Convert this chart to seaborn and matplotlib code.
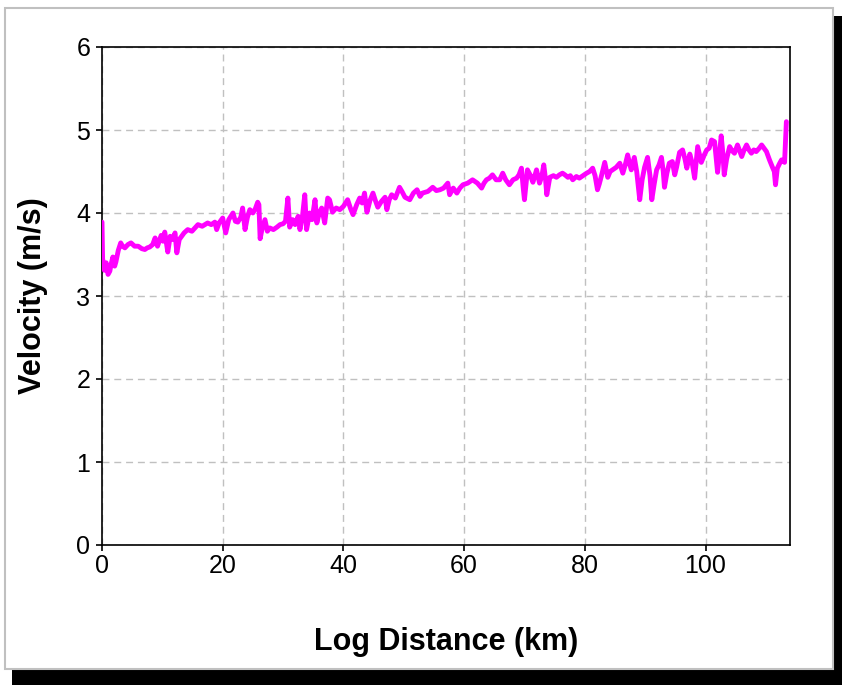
import matplotlib
matplotlib.use("Agg")
import matplotlib.pyplot as plt
from matplotlib.patches import Rectangle
import numpy as np
import pandas as pd
import seaborn as sns

distance_km = [
    0.0, 0.1, 0.4, 0.7, 1.0, 1.3, 1.5, 1.8, 2.1, 2.3, 2.7, 3.1, 3.4, 3.8, 4.3, 4.8, 5.4, 6.0, 6.6, 7.1,
    7.5, 7.9, 8.4, 8.8, 9.2, 9.8, 10.1, 10.4, 10.9, 11.3, 11.7, 12.1, 12.4, 12.8, 13.1, 13.6, 14.2, 14.9, 15.9, 16.6,
    17.5, 18.1, 18.7, 19.0, 19.4, 20.0, 20.5, 21.0, 21.7, 22.1, 22.5, 23.0, 23.3, 23.7, 24.1, 24.5, 25.0, 25.4, 25.8, 26.0,
    26.2, 26.5, 27.0, 27.4, 27.8, 28.4, 29.0, 29.5, 30.0, 30.4, 30.8, 31.1, 31.6, 32.0, 32.5, 32.8, 33.2, 33.6, 33.9, 34.4,
    34.8, 35.3, 35.6, 36.0, 36.4, 36.9, 37.4, 37.7, 38.2, 38.8, 39.4, 40.0, 40.7, 41.2, 41.6, 42.2, 42.7, 43.1, 43.5, 43.9,
    44.4, 44.9, 45.3, 45.7, 46.3, 46.9, 47.2, 47.6, 48.0, 48.6, 49.3, 49.7, 50.2, 51.0, 51.6, 52.2, 52.7, 53.1, 54.0, 54.8,
    55.4, 56.0, 56.6, 57.3, 57.6, 58.2, 58.8, 59.3, 59.8, 60.6, 61.4, 62.2, 62.9, 63.3, 63.7, 64.2, 64.7, 65.3, 65.9, 66.4,
    66.9, 67.5, 68.1, 68.7, 69.1, 69.5, 69.8, 70.0, 70.2, 70.5, 71.0, 71.4, 72.0, 72.5, 72.9, 73.2, 73.5, 73.7, 74.0, 74.2,
    74.8, 75.3, 75.8, 76.3, 76.7, 77.2, 77.6, 78.0, 78.6, 79.1, 79.7, 80.3, 80.8, 81.3, 81.7, 82.1, 82.4, 82.8, 83.3, 83.8,
    84.2, 84.6, 85.2, 85.8, 86.3, 86.7, 87.1, 87.4, 87.7, 88.2, 88.6, 89.1, 89.5, 89.9, 90.4, 90.8, 91.1, 91.5, 91.9, 92.3,
    92.7, 93.0, 93.2, 93.6, 94.0, 94.5, 94.9, 95.2, 95.7, 96.2, 96.6, 96.9, 97.4, 97.8, 98.2, 98.7, 99.3, 99.8, 100.2, 100.6,
    101.0, 101.5, 102.0, 102.3, 102.6, 102.9, 103.1, 103.5, 104.0, 104.4, 104.8, 105.3, 106.0, 106.4, 106.8, 107.2, 107.6, 108.0, 108.4, 108.9,
    109.3, 109.7, 110.1, 110.6, 111.1, 111.4, 111.6, 111.9, 112.3, 112.6, 113.1, 113.4,
]
velocity_ms = [
    3.89, 3.45, 3.31, 3.40, 3.26, 3.30, 3.38, 3.47, 3.36, 3.41, 3.55, 3.64, 3.60, 3.58, 3.62, 3.64, 3.60, 3.60, 3.57, 3.56,
    3.58, 3.59, 3.62, 3.70, 3.60, 3.73, 3.66, 3.77, 3.53, 3.72, 3.68, 3.76, 3.52, 3.68, 3.71, 3.76, 3.80, 3.78, 3.86, 3.84,
    3.88, 3.86, 3.89, 3.80, 3.88, 3.94, 3.76, 3.92, 4.00, 3.90, 3.89, 3.95, 4.06, 3.80, 3.95, 4.04, 4.00, 4.05, 4.13, 4.10,
    3.69, 3.80, 3.92, 3.78, 3.82, 3.80, 3.83, 3.86, 3.87, 3.90, 4.18, 3.83, 3.92, 3.86, 3.96, 3.80, 3.95, 4.22, 3.80, 4.00,
    3.92, 4.16, 3.88, 4.00, 4.06, 3.88, 4.18, 4.16, 4.01, 4.06, 4.04, 4.08, 4.16, 4.05, 3.98, 4.10, 4.18, 4.12, 4.24, 4.01,
    4.15, 4.24, 4.15, 4.07, 4.14, 4.19, 4.04, 4.16, 4.22, 4.18, 4.31, 4.26, 4.19, 4.16, 4.24, 4.28, 4.20, 4.24, 4.26, 4.31,
    4.27, 4.28, 4.30, 4.36, 4.22, 4.30, 4.24, 4.30, 4.34, 4.36, 4.40, 4.36, 4.30, 4.36, 4.40, 4.42, 4.46, 4.40, 4.40, 4.48,
    4.40, 4.34, 4.40, 4.42, 4.46, 4.54, 4.30, 4.16, 4.30, 4.52, 4.45, 4.37, 4.52, 4.36, 4.45, 4.58, 4.40, 4.22, 4.35, 4.43,
    4.45, 4.43, 4.46, 4.48, 4.46, 4.43, 4.45, 4.40, 4.44, 4.42, 4.45, 4.48, 4.50, 4.54, 4.45, 4.28, 4.35, 4.46, 4.61, 4.43,
    4.50, 4.52, 4.55, 4.60, 4.48, 4.58, 4.70, 4.60, 4.52, 4.67, 4.50, 4.16, 4.40, 4.55, 4.67, 4.45, 4.16, 4.35, 4.52, 4.58,
    4.67, 4.50, 4.31, 4.48, 4.60, 4.62, 4.46, 4.55, 4.73, 4.76, 4.65, 4.54, 4.71, 4.60, 4.42, 4.80, 4.61, 4.70, 4.76, 4.78,
    4.88, 4.86, 4.49, 4.70, 4.93, 4.70, 4.46, 4.65, 4.80, 4.75, 4.72, 4.82, 4.68, 4.76, 4.82, 4.76, 4.72, 4.76, 4.74, 4.78,
    4.82, 4.78, 4.74, 4.64, 4.55, 4.50, 4.34, 4.54, 4.60, 4.64, 4.61, 5.10,
]
x_ticks = [0, 20, 40, 60, 80, 100]
y_ticks = [0, 1, 2, 3, 4, 5, 6]
x_label = "Log Distance (km)"
y_label = "Velocity (m/s)"

df = pd.DataFrame({"distance": distance_km, "velocity": velocity_ms})

sns.set_theme(style="white")
plt.rcParams["font.family"] = ["Liberation Sans", "DejaVu Sans"]

W, H = 842, 685
fig = plt.figure(figsize=(W / 100, H / 100), dpi=100)
fig.patch.set_facecolor("white")

# drop shadow and chart frame (behind the axes)
fig.patches.append(Rectangle((12 / W, 0), (W - 12) / W, (H - 16) / H,
                             transform=fig.transFigure, facecolor="black",
                             edgecolor="none", zorder=-3))
fig.patches.append(Rectangle((5 / W, (H - 669) / H), (833 - 5) / W, (669 - 8) / H,
                             transform=fig.transFigure, facecolor="white",
                             edgecolor="#c0c0c0", linewidth=1.5, zorder=-2))

ax = fig.add_axes([102 / W, 1 - 545 / H, 688 / W, 498 / H])
ax.set_zorder(2)
ax.set_facecolor("white")

sns.lineplot(data=df, x="distance", y="velocity", sort=False, estimator=None,
             color="#FF00FF", linewidth=3.5, ax=ax, zorder=3)

ax.set_xlim(0, 114)
ax.set_ylim(0, 6)
ax.set_xticks(x_ticks)
ax.set_yticks(y_ticks)
ax.set_xticklabels([str(t) for t in x_ticks], fontsize=18)
ax.set_yticklabels([str(t) for t in y_ticks], fontsize=18)
ax.grid(True, color="#c0c0c0", linestyle=(0, (5, 3.5)), linewidth=1.0)
for s in ax.spines.values():
    s.set_visible(True)
    s.set_color("black")
    s.set_linewidth(1.2)
ax.tick_params(axis="both", which="major", direction="out", length=4.5,
               width=1.2, color="black", labelcolor="black", pad=4,
               bottom=True, left=True)
ax.tick_params(axis="x", pad=2)
ax.set_xlabel(x_label, fontsize=22, fontweight="bold", labelpad=35, color="black")
ax.set_ylabel(y_label, fontsize=22, fontweight="bold", labelpad=20, color="black")

fig.savefig("out.png", dpi=100, facecolor="white")
